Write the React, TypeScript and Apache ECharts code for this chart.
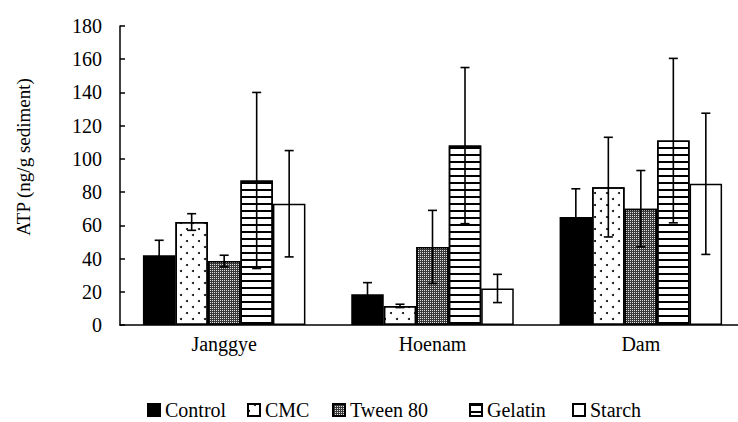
import React, { useEffect, useRef } from "react";
import * as echarts from "echarts";

const categories = ["Janggye", "Hoenam", "Dam"];
const seriesNames = ["Control", "CMC", "Tween 80", "Gelatin", "Starch"];
const yTicks = [0, 20, 40, 60, 80, 100, 120, 140, 160, 180];

const controlMean = [42, 18.5, 65];
const controlErr = [9, 7, 17];
const cmcMean = [62, 11.5, 83];
const cmcErr = [5, 1, 30];
const tweenMean = [38.5, 47, 70];
const tweenErr = [3.5, 22, 23];
const gelatinMean = [87, 108, 111];
const gelatinErr = [53, 47, 49.5];
const starchMean = [73, 22, 85];
const starchErr = [32, 8.5, 42.5];

const means = [controlMean, cmcMean, tweenMean, gelatinMean, starchMean];
const errs = [controlErr, cmcErr, tweenErr, gelatinErr, starchErr];

const FONT = '"Liberation Serif", "Times New Roman", serif';
const BAR_W = 32.5;

const styles: any[] = [
  { color: "#000", borderColor: "#000", borderWidth: 1.5 },
  {
    color: "#fff",
    borderColor: "#000",
    borderWidth: 1.5,
    decal: {
      symbol: "circle",
      symbolSize: 1,
      color: "#000",
      dashArrayX: [[2, 10], [0, 6, 2, 4]],
      dashArrayY: [2, 4],
      rotation: 0,
    },
  },
  {
    color: "#3a3a3a",
    borderColor: "#000",
    borderWidth: 1.5,
    decal: {
      symbol: "rect",
      symbolSize: 1,
      color: "rgba(255,255,255,0.85)",
      dashArrayX: [1, 1],
      dashArrayY: [1, 1],
      rotation: 0,
    },
  },
  {
    color: "#fff",
    borderColor: "#000",
    borderWidth: 1.5,
    decal: {
      symbol: "rect",
      symbolSize: 1,
      color: "#000",
      dashArrayX: [1, 0],
      dashArrayY: [1.5, 4.5],
      rotation: 0,
    },
  },
  { color: "#fff", borderColor: "#000", borderWidth: 1.5 },
];

const legendLeft = [147, 247, 332, 469, 572];

export default function App() {
  const ref = useRef<HTMLDivElement>(null);
  useEffect(() => {
    if (!ref.current) return;
    const chart = echarts.init(ref.current, undefined, { renderer: "svg" });

    const errData: number[][] = [];
    means.forEach((m, s) => {
      m.forEach((v, c) => {
        errData.push([c, s, v - errs[s][c], v + errs[s][c]]);
      });
    });

    const barSeries = seriesNames.map((name, i) => ({
      name,
      type: "bar",
      data: means[i],
      barWidth: BAR_W,
      barGap: "0%",
      itemStyle: styles[i],
      emphasis: { disabled: true },
      z: 2,
    }));

    const option: any = {
      animation: false,
      backgroundColor: "#fff",
      grid: { left: 120, right: -7, top: 26, bottom: 97, containLabel: false, outerBoundsMode: "none" },
      xAxis: {
        type: "category",
        data: categories,
        axisLine: { lineStyle: { color: "#000", width: 1.5 } },
        axisTick: { inside: true, length: 5, lineStyle: { color: "#000", width: 1.5 } },
        axisLabel: { color: "#000", fontSize: 20, fontFamily: FONT, margin: 9 },
        splitLine: { show: false },
      },
      yAxis: {
        type: "value",
        min: yTicks[0],
        max: yTicks[yTicks.length - 1],
        interval: yTicks[1] - yTicks[0],
        axisLine: { show: true, lineStyle: { color: "#000", width: 1.5 } },
        axisTick: { show: true, inside: true, length: 5, lineStyle: { color: "#000", width: 1.5 } },
        axisLabel: { color: "#000", fontSize: 20, fontFamily: FONT, margin: 18 },
        splitLine: { show: false },
      },
      legend: seriesNames.map((n, i) => ({
        data: [n],
        left: legendLeft[i],
        top: 400,
        padding: 0,
        itemWidth: 12,
        itemHeight: 12,
        icon: "rect",
        selectedMode: false,
        textStyle: { color: "#000", fontSize: 20, fontFamily: FONT },
      })),
      graphic: [
        {
          type: "text",
          x: 23,
          y: 157,
          rotation: Math.PI / 2,
          style: {
            text: "ATP (ng/g sediment)",
            fontSize: 19,
            fontFamily: FONT,
            fill: "#000",
            align: "center",
            verticalAlign: "middle",
          },
        },
      ],
      series: [
        ...barSeries,
        {
          type: "custom",
          name: "err",
          data: errData,
          z: 5,
          silent: true,
          renderItem: (params: any, api: any) => {
            const c = api.value(0);
            const s = api.value(1);
            const pLo = api.coord([c, api.value(2)]);
            const pHi = api.coord([c, api.value(3)]);
            const x = pLo[0] + (s - 2) * BAR_W;
            const cap = 4.5;
            const ls = { stroke: "#000", lineWidth: 1.6 };
            return {
              type: "group",
              children: [
                { type: "line", shape: { x1: x, y1: pLo[1], x2: x, y2: pHi[1] }, style: ls },
                { type: "line", shape: { x1: x - cap, y1: pHi[1], x2: x + cap, y2: pHi[1] }, style: ls },
                { type: "line", shape: { x1: x - cap, y1: pLo[1], x2: x + cap, y2: pLo[1] }, style: ls },
              ],
            };
          },
        },
      ],
    };
    chart.setOption(option);
    return () => chart.dispose();
  }, []);
  return (
    <div
      ref={ref}
      style={{ position: "fixed", left: 0, top: 0, width: 738, height: 422, background: "#fff" }}
    />
  );
}
